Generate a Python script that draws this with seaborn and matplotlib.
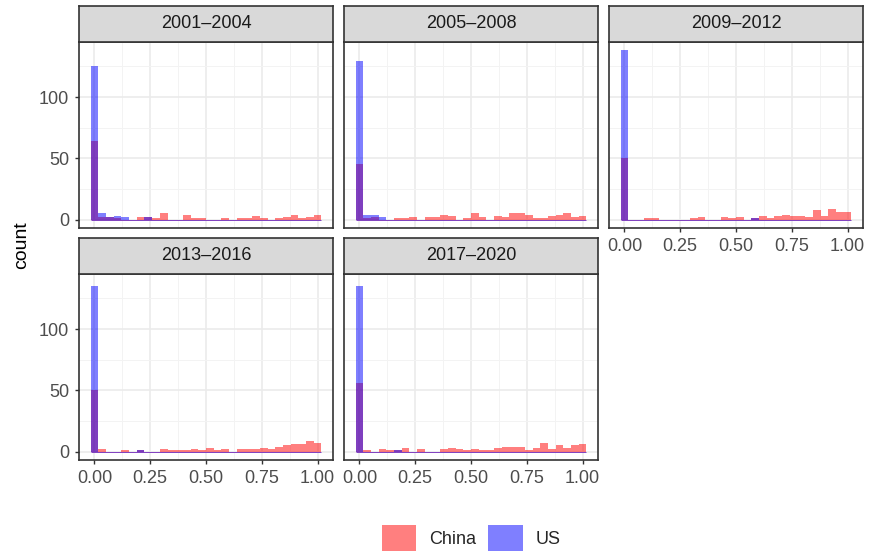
import numpy as np
import pandas as pd
import matplotlib
matplotlib.use("Agg")
import matplotlib.pyplot as plt
from matplotlib.patches import Patch
import seaborn as sns

sns.set_style("white")
plt.rcParams['font.family'] = ['Liberation Sans', 'DejaVu Sans']

periods = ["2001\u20132004", "2005\u20132008", "2009\u20132012", "2013\u20132016", "2017\u20132020"]

china_2001 = [64, 2, 2, 1, 0, 0, 2, 2, 1, 5, 0, 0, 4, 1, 1, 0, 0, 1, 0, 1, 1, 3, 1, 0, 1, 2, 4, 1, 2, 4]
us_2001 = [125, 5, 2, 3, 2, 0, 0, 2, 0, 0, 0, 0, 0, 0, 0, 0, 0, 0, 0, 0, 0, 0, 0, 0, 0, 0, 0, 0, 0, 0]
china_2005 = [45, 1, 2, 0, 0, 1, 1, 2, 0, 2, 2, 4, 3, 0, 1, 5, 2, 0, 3, 2, 5, 5, 4, 1, 1, 3, 4, 5, 2, 3]
us_2005 = [129, 4, 4, 2, 0, 0, 0, 0, 0, 0, 0, 0, 0, 0, 0, 0, 0, 0, 0, 0, 0, 0, 0, 0, 0, 0, 0, 0, 0, 0]
china_2009 = [50, 0, 0, 1, 1, 0, 0, 0, 0, 1, 2, 0, 0, 2, 1, 2, 0, 1, 3, 1, 3, 4, 3, 3, 2, 8, 3, 9, 6, 6]
us_2009 = [138, 0, 0, 0, 0, 0, 0, 0, 0, 0, 0, 0, 0, 0, 0, 0, 0, 1, 0, 0, 0, 0, 0, 0, 0, 0, 0, 0, 0, 0]
china_2013 = [50, 2, 0, 0, 1, 0, 1, 0, 0, 2, 1, 1, 1, 2, 1, 3, 1, 2, 0, 2, 2, 2, 3, 2, 4, 5, 6, 6, 9, 7]
us_2013 = [135, 0, 0, 0, 0, 0, 1, 0, 0, 0, 0, 0, 0, 0, 0, 0, 0, 0, 0, 0, 0, 0, 0, 0, 0, 0, 0, 0, 0, 0]
china_2017 = [56, 1, 0, 2, 1, 1, 3, 0, 2, 0, 0, 2, 3, 2, 1, 2, 1, 1, 3, 4, 4, 4, 1, 3, 7, 2, 5, 3, 5, 6]
us_2017 = [135, 0, 0, 0, 0, 1, 0, 0, 0, 0, 0, 0, 0, 0, 0, 0, 0, 0, 0, 0, 0, 0, 0, 0, 0, 0, 0, 0, 0, 0]

china_counts = [china_2001, china_2005, china_2009, china_2013, china_2017]
us_counts = [us_2001, us_2005, us_2009, us_2013, us_2017]

x_ticks = [0.0, 0.25, 0.5, 0.75, 1.0]
x_tick_labels = ["0.00", "0.25", "0.50", "0.75", "1.00"]
y_ticks = [0, 50, 100]

n_bins = 30
width = 1.0 / (n_bins - 1)
centers = np.arange(n_bins) * width
bin_range = (-0.5 * width, 1 + 0.5 * width)

W, H = 870, 559
fig = plt.figure(figsize=(W / 100, H / 100), dpi=100)

col_left = [79, 344, 609]
panel_w = 254
rows = [(42, 228, 6), (274, 460, 238)]  # panel top, panel bottom, strip top

def fr(left, top, w, h):
    return [left / W, 1 - (top + h) / H, w / W, h / H]

border = "#333333"
ylim = (-6.9, 144.9)
xlim = (-0.069, 1.069)
fs = 13

for i, per in enumerate(periods):
    r, c = divmod(i, 3)
    ptop, pbot, stop = rows[r]
    ax = fig.add_axes(fr(col_left[c], ptop, panel_w, pbot - ptop))
    df_c = pd.DataFrame({"value": centers, "n": np.array(china_counts[i], dtype=float)})
    df_u = pd.DataFrame({"value": centers, "n": np.array(us_counts[i], dtype=float)})
    sns.histplot(data=df_c, x="value", weights="n", bins=n_bins, binrange=bin_range,
                 color="#FF0000", alpha=0.5, linewidth=0, ax=ax)
    sns.histplot(data=df_u, x="value", weights="n", bins=n_bins, binrange=bin_range,
                 color="#0000FF", alpha=0.5, linewidth=0, ax=ax)
    # hairline left by zero-height bins
    ax.hlines(0, bin_range[0], bin_range[1], color="#7F3FBF", lw=0.7, zorder=3)
    ax.set_xlim(*xlim)
    ax.set_ylim(*ylim)
    ax.set_xticks(x_ticks)
    ax.set_xticks([0.125, 0.375, 0.625, 0.875], minor=True)
    ax.set_yticks(y_ticks)
    ax.set_yticks([25, 75, 125], minor=True)
    ax.grid(True, which="major", color="#EBEBEB", lw=1.2)
    ax.grid(True, which="minor", color="#F3F3F3", lw=0.7)
    ax.set_axisbelow(True)
    ax.set_xlabel("")
    ax.set_ylabel("")
    for s in ax.spines.values():
        s.set_color(border)
        s.set_linewidth(1.2)
    ax.tick_params(which="minor", length=0)
    ax.tick_params(which="major", length=3.2, width=1.0, color=border,
                   labelcolor="#4D4D4D", labelsize=fs, pad=4)
    show_x = (r == 1) or (c == 2)
    show_y = (c == 0)
    if show_x:
        ax.set_xticklabels(x_tick_labels)
        ax.tick_params(axis="x", bottom=True, labelbottom=True)
    else:
        ax.tick_params(axis="x", bottom=False, labelbottom=False)
    if show_y:
        ax.set_yticklabels([str(v) for v in y_ticks])
        ax.tick_params(axis="y", left=True, labelleft=True)
    else:
        ax.tick_params(axis="y", left=False, labelleft=False)

    sax = fig.add_axes(fr(col_left[c], stop, panel_w, ptop - stop))
    sax.set_facecolor("#D9D9D9")
    sax.set_xticks([])
    sax.set_yticks([])
    for s in sax.spines.values():
        s.set_color(border)
        s.set_linewidth(1.2)
    sax.text(0.5, 0.5, per, ha="center", va="center", fontsize=fs,
             color="#1A1A1A", transform=sax.transAxes)

fig.text(21.5 / W, 1 - 245 / H, "count", rotation=90, ha="center", va="center",
         fontsize=14, color="black")

handles = [Patch(facecolor="#FF0000", alpha=0.5, edgecolor="none"),
           Patch(facecolor="#0000FF", alpha=0.5, edgecolor="none")]
fig.legend(handles, ["China", "US"], loc="center", bbox_to_anchor=(471 / W, 1 - 538 / H),
           ncol=2, frameon=False, handlelength=1.9, handleheight=1.9,
           handletextpad=0.7, columnspacing=0.7, fontsize=fs)

fig.savefig("out.png", dpi=100)
